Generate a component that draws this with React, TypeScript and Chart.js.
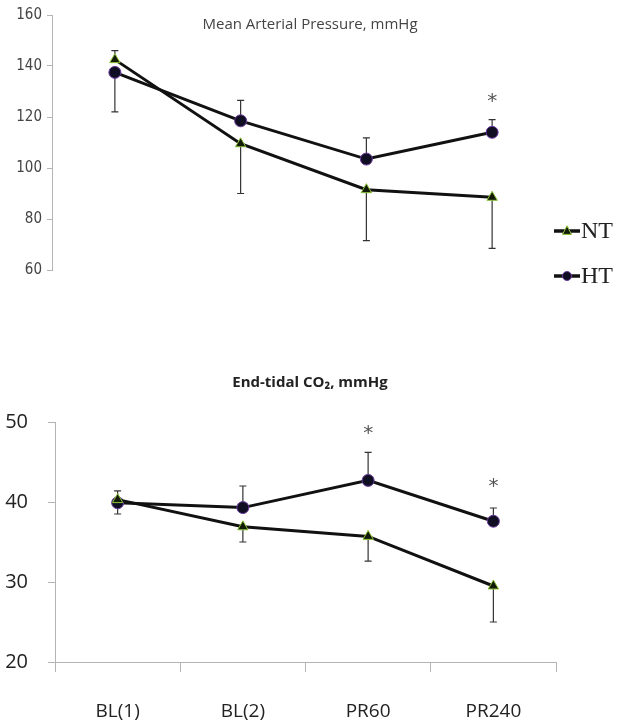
import React, { useEffect, useRef } from 'react';
import { Chart, registerables } from 'chart.js';

Chart.register(...registerables);

// ---------- data ----------
const categories = ['BL(1)', 'BL(2)', 'PR60', 'PR240'];

const mapNT = [142.5, 109.5, 91.5, 88.5];
const mapHT = [137.5, 118.5, 103.5, 114];
const mapNTErr = [3.5, 19.5, 20, 20];
const mapHTErr = [15.5, 8, 8.3, 5];
const mapNTDir = [1, -1, -1, -1];
const mapHTDir = [-1, 1, 1, 1];
const mapStars: (number | null)[] = [null, null, null, 127.5];

const etNT = [40.3, 36.9, 35.7, 29.5];
const etHT = [39.9, 39.3, 42.7, 37.6];
const etNTErr = [1.1, 1.9, 3.1, 4.5];
const etHTErr = [1.4, 2.7, 3.5, 1.65];
const etNTDir = [1, -1, -1, -1];
const etHTDir = [-1, 1, 1, 1];
const etStars: (number | null)[] = [null, null, 49, 42.4];

const legendLabels = ['NT', 'HT'];
const mapTitle = 'Mean Arterial Pressure, mmHg';
const etTitle = 'End-tidal CO\u2082, mmHg';

// ---------- styles ----------
const NT_FILL = '#141a08';
const NT_BORDER = '#8cc43a';
const HT_FILL = '#100e22';
const HT_BORDER = '#6c3aa0';
const AXIS = '#b4b4b4';

function drawTri(ctx: CanvasRenderingContext2D, x: number, y: number, r: number) {
  ctx.beginPath();
  ctx.moveTo(x, y - r * 1.15);
  ctx.lineTo(x + r, y + r * 0.75);
  ctx.lineTo(x - r, y + r * 0.75);
  ctx.closePath();
  ctx.fillStyle = NT_FILL;
  ctx.fill();
  ctx.strokeStyle = NT_BORDER;
  ctx.lineWidth = 1;
  ctx.stroke();
}
function drawCirc(ctx: CanvasRenderingContext2D, x: number, y: number, r: number) {
  ctx.beginPath();
  ctx.arc(x, y, r, 0, Math.PI * 2);
  ctx.fillStyle = HT_FILL;
  ctx.fill();
  ctx.strokeStyle = HT_BORDER;
  ctx.lineWidth = 1;
  ctx.stroke();
}

type Extra = {
  errs: { vals: number[]; err: number[]; dir: number[] }[];
  stars: (number | null)[];
  title: string;
  titleFont: string;
  titleColor: string;
  titleY: number;
  legend: boolean;
};

function makePlugin(extra: Extra) {
  return {
    id: 'extras',
    beforeDatasetsDraw(chart: any) {
      const ctx = chart.ctx as CanvasRenderingContext2D;
      const xs = chart.scales.x;
      const ys = chart.scales.y;
      ctx.save();
      ctx.strokeStyle = '#333';
      ctx.lineWidth = 1.2;
      extra.errs.forEach((e) => {
        e.vals.forEach((v, i) => {
          const x = xs.getPixelForValue(i);
          const y0 = ys.getPixelForValue(v);
          const y1 = ys.getPixelForValue(v + e.dir[i] * e.err[i]);
          ctx.beginPath();
          ctx.moveTo(x, y0);
          ctx.lineTo(x, y1);
          ctx.moveTo(x - 3.5, y1);
          ctx.lineTo(x + 3.5, y1);
          ctx.stroke();
        });
      });
      ctx.restore();
    },
    afterDraw(chart: any) {
      const ctx = chart.ctx as CanvasRenderingContext2D;
      const xs = chart.scales.x;
      const ys = chart.scales.y;
      ctx.save();
      // title
      ctx.font = extra.titleFont;
      ctx.fillStyle = extra.titleColor;
      ctx.textAlign = 'center';
      ctx.textBaseline = 'middle';
      ctx.fillText(extra.title, 310, extra.titleY);
      // stars
      ctx.font = '20px "DejaVu Sans", sans-serif';
      ctx.fillStyle = '#555';
      extra.stars.forEach((s, i) => {
        if (s == null) return;
        ctx.fillText('*', xs.getPixelForValue(i), ys.getPixelForValue(s) + 4);
      });
      // legend
      if (extra.legend) {
        const rows = [231, 276];
        rows.forEach((y, k) => {
          ctx.strokeStyle = '#111';
          ctx.lineWidth = 3.5;
          ctx.beginPath();
          ctx.moveTo(554, y);
          ctx.lineTo(580, y);
          ctx.stroke();
          if (k === 0) drawTri(ctx, 567, y, 4.5);
          else drawCirc(ctx, 567, y, 4.5);
          ctx.font = '24px "Liberation Serif", serif';
          ctx.fillStyle = '#222';
          ctx.textAlign = 'left';
          ctx.textBaseline = 'middle';
          ctx.fillText(legendLabels[k], 581, y + 1);
        });
      }
      ctx.restore();
    },
  };
}

function datasets(nt: number[], ht: number[]) {
  return [
    {
      label: legendLabels[0],
      data: nt,
      borderColor: '#111',
      borderWidth: 3,
      pointStyle: 'triangle',
      pointRadius: 6,
      pointBackgroundColor: NT_FILL,
      pointBorderColor: NT_BORDER,
      pointBorderWidth: 1,
      tension: 0,
    },
    {
      label: legendLabels[1],
      data: ht,
      borderColor: '#111',
      borderWidth: 3,
      pointStyle: 'circle',
      pointRadius: 6,
      pointBackgroundColor: HT_FILL,
      pointBorderColor: HT_BORDER,
      pointBorderWidth: 1,
      tension: 0,
    },
  ];
}

function TopChart() {
  const ref = useRef<HTMLCanvasElement>(null);
  useEffect(() => {
    const chart = new Chart(ref.current!, {
      type: 'line',
      data: { labels: categories, datasets: datasets(mapNT, mapHT) as any },
      options: {
        responsive: false,
        animation: false,
        layout: { padding: { left: 0, right: 64, top: 15, bottom: 30 } },
        plugins: { legend: { display: false }, tooltip: { enabled: false }, title: { display: false } },
        scales: {
          x: { type: 'category', display: false, offset: true },
          y: {
            min: 60,
            max: 160,
            ticks: { stepSize: 20, color: '#444', padding: 5, font: { family: '"DejaVu Sans Condensed", "Liberation Sans Narrow", sans-serif', size: 15 } },
            grid: { drawOnChartArea: false, drawTicks: true, tickLength: 5, color: AXIS },
            border: { display: true, color: AXIS, width: 1 },
            afterFit: (s: any) => { s.width = 52; },
          },
        },
      } as any,
      plugins: [
        makePlugin({
          errs: [
            { vals: mapNT, err: mapNTErr, dir: mapNTDir },
            { vals: mapHT, err: mapHTErr, dir: mapHTDir },
          ],
          stars: mapStars,
          title: mapTitle,
          titleFont: '15px "Open Sans", sans-serif',
          titleColor: '#444',
          titleY: 25,
          legend: true,
        }),
      ],
    });
    return () => chart.destroy();
  }, []);
  return <canvas ref={ref} width={619} height={300} style={{ display: 'block' }} />;
}

function BottomChart() {
  const ref = useRef<HTMLCanvasElement>(null);
  useEffect(() => {
    const chart = new Chart(ref.current!, {
      type: 'line',
      data: { labels: categories, datasets: datasets(etNT, etHT) as any },
      options: {
        responsive: false,
        animation: false,
        layout: { padding: { left: 0, right: 63, top: 52, bottom: 0 } },
        plugins: { legend: { display: false }, tooltip: { enabled: false }, title: { display: false } },
        scales: {
          x: {
            type: 'category',
            offset: true,
            ticks: { color: '#222', padding: 28, font: { family: '"Open Sans", sans-serif', size: 19 } },
            grid: { offset: true, drawOnChartArea: false, drawTicks: true, tickLength: 10, color: AXIS },
            border: { display: true, color: AXIS, width: 1 },
            afterFit: (s: any) => { s.height = 66; },
          },
          y: {
            min: 20,
            max: 50,
            ticks: { stepSize: 10, color: '#222', padding: 20, font: { family: '"Open Sans", sans-serif', size: 20 } },
            grid: { drawOnChartArea: false, drawTicks: true, tickLength: 7, color: AXIS },
            border: { display: true, color: AXIS, width: 1 },
            afterFit: (s: any) => { s.width = 55; },
          },
        },
      } as any,
      plugins: [
        makePlugin({
          errs: [
            { vals: etNT, err: etNTErr, dir: etNTDir },
            { vals: etHT, err: etHTErr, dir: etHTDir },
          ],
          stars: etStars,
          title: etTitle,
          titleFont: 'bold 15px "Open Sans", sans-serif',
          titleColor: '#222',
          titleY: 13,
          legend: false,
        }),
      ],
    });
    return () => chart.destroy();
  }, []);
  return <canvas ref={ref} width={619} height={358} style={{ display: 'block' }} />;
}

export default function App() {
  return (
    <div style={{ position: 'absolute', left: 0, top: 0, width: 619, height: 728, background: '#fff' }}>
      <div style={{ position: 'absolute', left: 0, top: 0, width: 619, height: 300 }}>
        <TopChart />
      </div>
      <div style={{ position: 'absolute', left: 0, top: 370, width: 619, height: 358 }}>
        <BottomChart />
      </div>
    </div>
  );
}
